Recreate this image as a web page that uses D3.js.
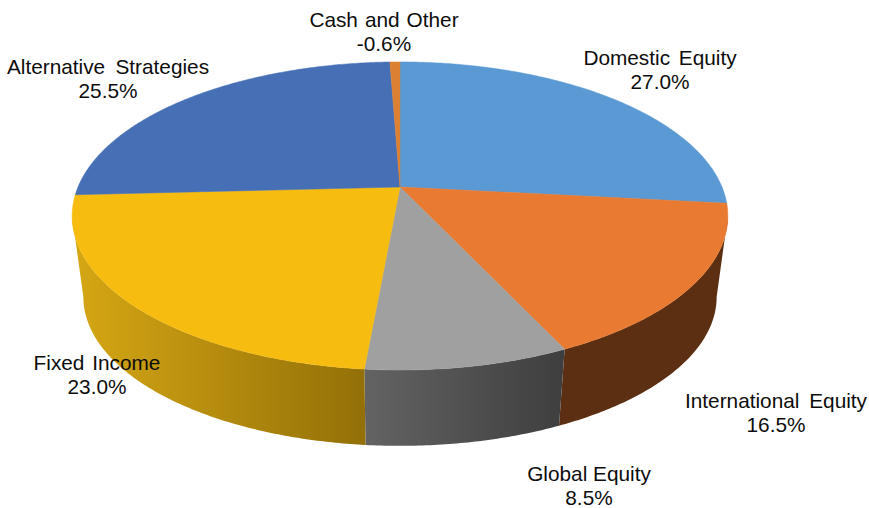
<!DOCTYPE html>
<html>
<head>
<meta charset="utf-8">
<script src="https://cdn.jsdelivr.net/npm/d3@7"></script>
<style>
  html, body { margin: 0; padding: 0; background: #fff; }
  svg { display: block; }
  text { font-family: "Liberation Sans", Arial, sans-serif; font-size: 20.8px; fill: #0d0d0d; }
</style>
</head>
<body>
<svg id="chart" width="869" height="508"></svg>
<script>
const categories = ['Domestic Equity', 'International Equity', 'Global Equity', 'Fixed Income', 'Alternative Strategies', 'Cash and Other'];
const values = [27.0, 16.5, 8.5, 23.0, 25.5, -0.6];

const topColors = ['#5a99d3', '#e97a32', '#a0a0a0', '#f7bc10', '#466fb6', '#dc8034'];
const wallLeftColors = ['#3a6a96', '#5c2f12', '#636363', '#d6a714', '#2f4d80', '#8a4f20'];
const wallRightColors = ['#3a6a96', '#5c2f12', '#3e3e3e', '#937008', '#2f4d80', '#8a4f20'];
const labelCenters = [[660, 65], [776, 408], [589, 481], [97, 370], [108, 74], [384, 27]];
const labelWordGaps = [3, 4, 0, 2, 4.5, 1.2];

const width = 869;
const height = 508;
const lineGap = 24;

const svg = d3.select('#chart').attr('viewBox', `0 0 ${width} ${height}`);
const defs = svg.append('defs');

// the chart is tilted with perspective, so the pie centre sits above the ellipse centre
const tilt = 0.188;
const rimTop = { cx: 400, cy: 187, ax: 322, ay: 148.6 };
const rimBottom = { cx: 400, cy: 269, ax: 311, ay: 143.6 };

// only this part of the rim faces the viewer
const frontStart = Math.acos(-tilt);
const frontEnd = 2 * Math.PI - frontStart;

function project(rim, t) {
  const u = Math.sin(t);
  const v = -Math.cos(t);
  const w = 1 - tilt * v;
  return [rim.cx + rim.ax * u / w, rim.cy + rim.ay * v / w];
}

function arcPoints(rim, a0, a1) {
  const n = Math.max(2, Math.ceil((a1 - a0) / 0.01));
  return d3.range(n + 1).map(i => project(rim, a0 + (a1 - a0) * i / n));
}

const slices = d3.pie()
  .sort(null)
  .value(i => Math.abs(values[i]))(d3.range(values.length));

const line = d3.line();

// walls first, the disc goes on top
const walls = svg.append('g');
slices.forEach(s => {
  const i = s.data;
  const a0 = Math.max(s.startAngle, frontStart);
  const a1 = Math.min(s.endAngle, frontEnd);
  if (a0 >= a1) return;

  const top = arcPoints(rimTop, a0, a1);
  const bottom = arcPoints(rimBottom, a0, a1).reverse();
  const xs = top.concat(bottom).map(p => p[0]);

  const grad = defs.append('linearGradient')
    .attr('id', `wall${i}`)
    .attr('gradientUnits', 'userSpaceOnUse')
    .attr('x1', d3.min(xs)).attr('x2', d3.max(xs))
    .attr('y1', 0).attr('y2', 0);
  // wall shading runs left to right
  grad.append('stop').attr('offset', 0).attr('stop-color', wallLeftColors[i]);
  grad.append('stop').attr('offset', 1).attr('stop-color', wallRightColors[i]);

  walls.append('path')
    .attr('d', line(top.concat(bottom)) + 'Z')
    .attr('fill', `url(#wall${i})`);
});

const disc = svg.append('g');
slices.forEach(s => {
  const i = s.data;
  const pts = [[rimTop.cx, rimTop.cy]].concat(arcPoints(rimTop, s.startAngle, s.endAngle));
  disc.append('path')
    .attr('d', line(pts) + 'Z')
    .attr('fill', topColors[i])
    .attr('stroke', topColors[i])
    .attr('stroke-width', 0.5);
});

const labels = svg.append('g').attr('text-anchor', 'middle');
categories.forEach((name, i) => {
  const [x, y] = labelCenters[i];
  labels.append('text').attr('x', x).attr('y', y).attr('word-spacing', labelWordGaps[i]).text(name);
  labels.append('text').attr('x', x).attr('y', y + lineGap).text(d3.format('.1f')(values[i]).replace('\u2212', '-') + '%');
});
</script>
</body>
</html>
